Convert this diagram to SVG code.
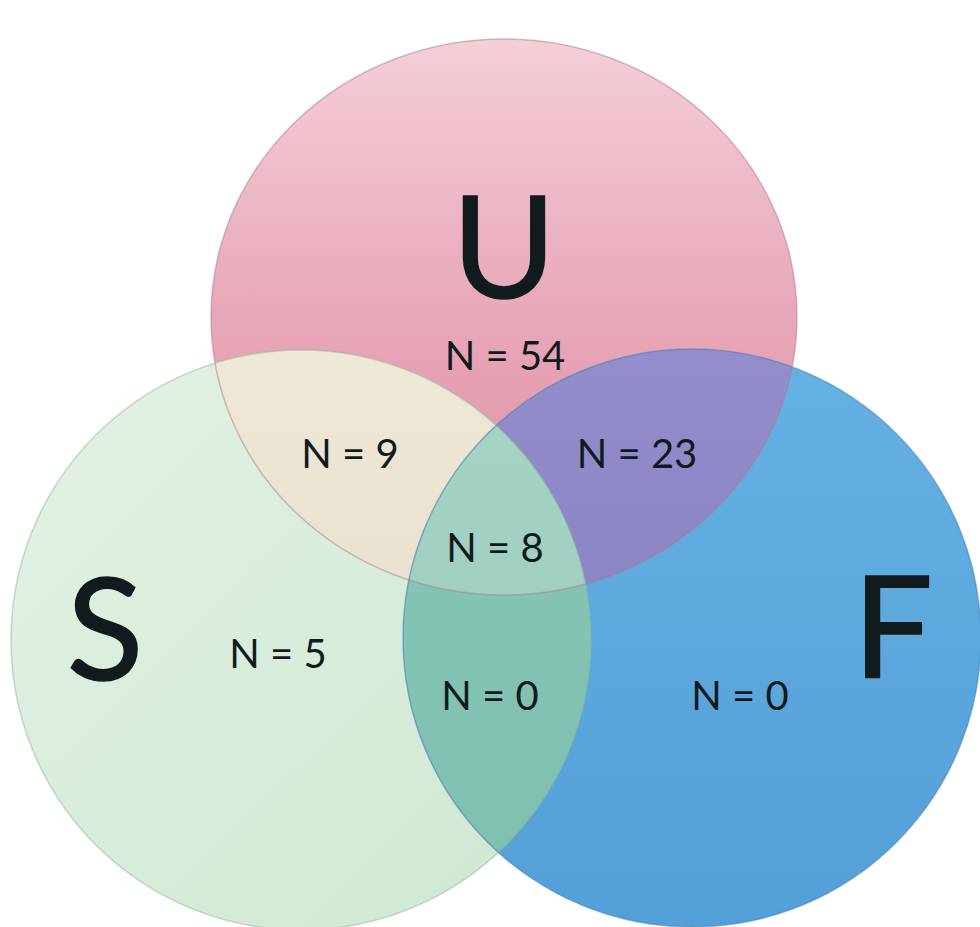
<svg xmlns="http://www.w3.org/2000/svg" width="980" height="927" viewBox="0 0 980 927">
  <style>
    .big { font-family: Lato, "Open Sans", "Liberation Sans", sans-serif; font-size: 142px; fill: #111a1c; stroke: #111a1c; stroke-width: 1.4; text-anchor: middle; }
    .lbl { font-family: Lato, "Open Sans", "Liberation Sans", sans-serif; font-size: 40px; fill: #111a1c; text-anchor: middle; }
    .edge { fill: none; stroke-width: 1.5; }
  </style>
  <defs>
    <linearGradient id="gU" x1="0" y1="0" x2="0" y2="1">
      <stop offset="0" stop-color="#F4CFD8"/>
      <stop offset="0.5" stop-color="#E8A7B8"/>
      <stop offset="1" stop-color="#DC8CA1"/>
    </linearGradient>
    <linearGradient id="gS" x1="0" y1="0" x2="1" y2="1">
      <stop offset="0" stop-color="#E3F2E5"/>
      <stop offset="1" stop-color="#CEE7D1"/>
    </linearGradient>
    <linearGradient id="gF" x1="0" y1="0" x2="0" y2="1">
      <stop offset="0" stop-color="#66B1E4"/>
      <stop offset="1" stop-color="#539FD7"/>
    </linearGradient>
    <linearGradient id="gUS" x1="0" y1="0" x2="0" y2="1">
      <stop offset="0" stop-color="#EEE8D7"/>
      <stop offset="1" stop-color="#E3D9C5"/>
    </linearGradient>
    <linearGradient id="gUF" x1="0" y1="0" x2="0" y2="1">
      <stop offset="0" stop-color="#948ECC"/>
      <stop offset="1" stop-color="#8077BC"/>
    </linearGradient>
    <linearGradient id="gSF" x1="0" y1="0" x2="0" y2="1">
      <stop offset="0" stop-color="#88C7B8"/>
      <stop offset="1" stop-color="#7EBFB0"/>
    </linearGradient>
    <linearGradient id="gC" x1="0" y1="0" x2="0" y2="1">
      <stop offset="0" stop-color="#A8D5C6"/>
      <stop offset="1" stop-color="#93C9BA"/>
    </linearGradient>
    <clipPath id="cU"><ellipse cx="504" cy="317" rx="293" ry="278"/></clipPath>
    <clipPath id="cS"><circle cx="301" cy="640" r="290"/></clipPath>
    <clipPath id="cF"><circle cx="692" cy="638" r="289"/></clipPath>
  </defs>

  <rect x="0" y="0" width="980" height="927" fill="#FFFFFF"/>

  <g id="set-U">
    <ellipse cx="504" cy="317" rx="293" ry="278" fill="url(#gU)"/>
  </g>
  <g id="set-S">
    <circle cx="301" cy="640" r="290" fill="url(#gS)"/>
  </g>
  <g id="set-F">
    <circle cx="692" cy="638" r="289" fill="url(#gF)"/>
  </g>

  <g id="region-US">
    <circle cx="301" cy="640" r="290" fill="url(#gUS)" clip-path="url(#cU)"/>
  </g>
  <g id="region-UF">
    <circle cx="692" cy="638" r="289" fill="url(#gUF)" clip-path="url(#cU)"/>
  </g>
  <g id="region-SF">
    <circle cx="692" cy="638" r="289" fill="url(#gSF)" clip-path="url(#cS)"/>
  </g>
  <g id="region-USF" clip-path="url(#cU)">
    <circle cx="692" cy="638" r="289" fill="url(#gC)" clip-path="url(#cS)"/>
  </g>

  <g id="edges">
    <ellipse class="edge" cx="504" cy="317" rx="293" ry="278" stroke="#B07C8A" stroke-opacity="0.5"/>
    <circle class="edge" cx="301" cy="640" r="290" stroke="#8FB59A" stroke-opacity="0.5"/>
    <circle class="edge" cx="692" cy="638" r="289" stroke="#3F7FAF" stroke-opacity="0.5"/>
  </g>

  <g id="labels">
    <text class="big" x="504" y="298">U</text>
    <text class="big" x="105" y="680">S</text>
    <text class="big" x="893" y="678">F</text>
    <text class="lbl" x="505" y="370">N = 54</text>
    <text class="lbl" x="350" y="468">N = 9</text>
    <text class="lbl" x="637" y="468">N = 23</text>
    <text class="lbl" x="495" y="562">N = 8</text>
    <text class="lbl" x="278" y="668">N = 5</text>
    <text class="lbl" x="490" y="710">N = 0</text>
    <text class="lbl" x="740" y="710">N = 0</text>
  </g>
</svg>
